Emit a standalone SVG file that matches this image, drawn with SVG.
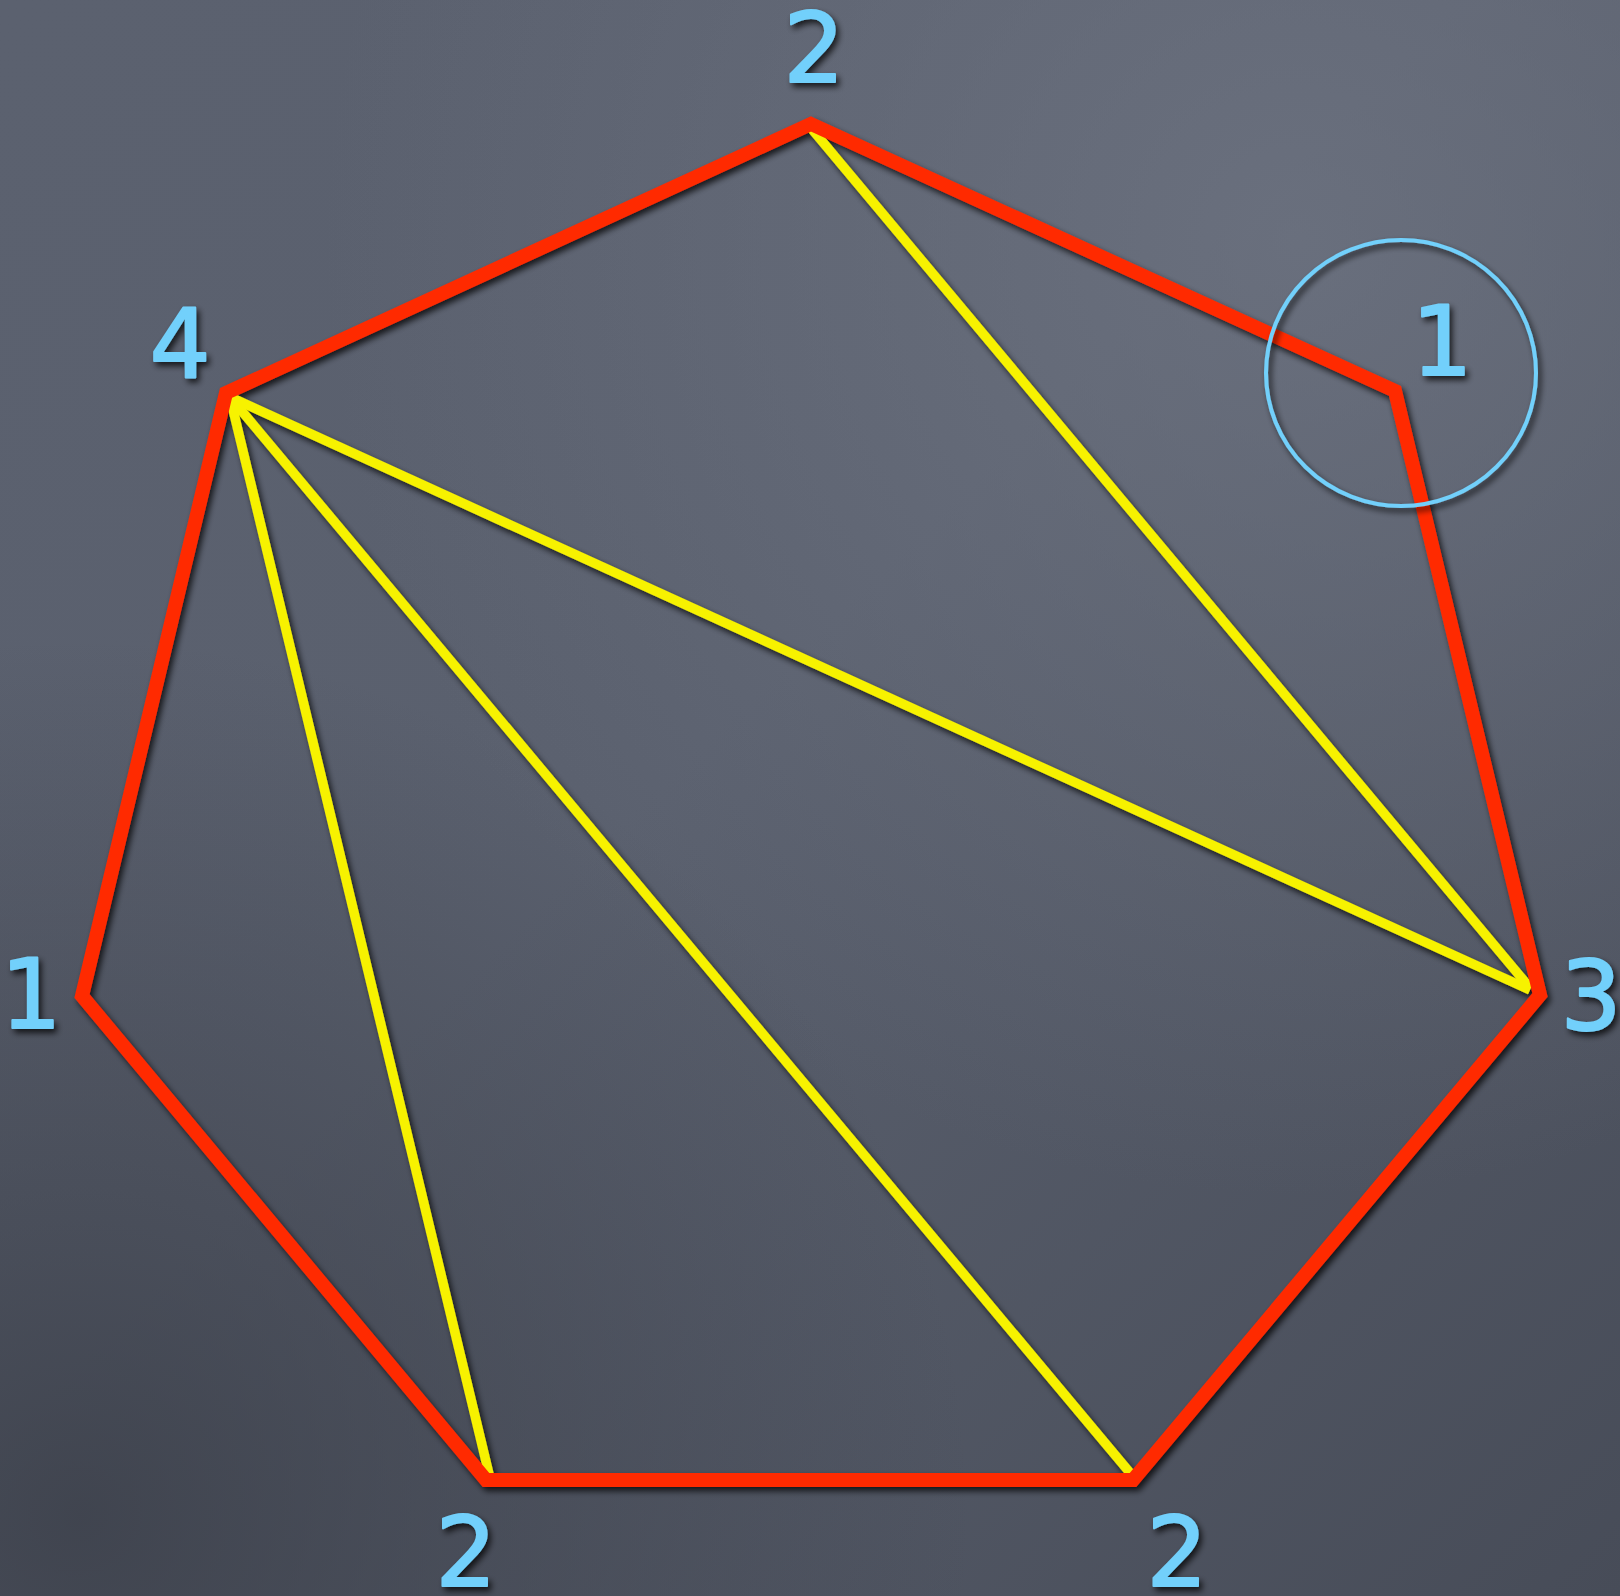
<svg xmlns="http://www.w3.org/2000/svg" width="1620" height="1596" viewBox="0 0 1620 1596">
  <defs>
    <linearGradient id="bg" x1="0" y1="0" x2="1" y2="1">
      <stop offset="0" stop-color="#5b616f"/>
      <stop offset="0.45" stop-color="#5a606e"/>
      <stop offset="1" stop-color="#474c58"/>
    </linearGradient>
    <radialGradient id="glow" cx="0.8" cy="0.15" r="0.6">
      <stop offset="0" stop-color="#707684" stop-opacity="0.7"/>
      <stop offset="1" stop-color="#707684" stop-opacity="0"/>
    </radialGradient>
    <radialGradient id="dark" cx="0.05" cy="0.95" r="0.55">
      <stop offset="0" stop-color="#3a3e48" stop-opacity="0.8"/>
      <stop offset="1" stop-color="#3a3e48" stop-opacity="0"/>
    </radialGradient>
    <filter id="shadow" x="-10%" y="-10%" width="120%" height="120%">
      <feDropShadow dx="3" dy="4" stdDeviation="3" flood-color="#000" flood-opacity="0.75"/>
    </filter>
    <style>
      .edge { fill: none; stroke: #ff2a00; stroke-width: 14; stroke-linejoin: miter; }
      .diag { fill: none; stroke: #f7f200; stroke-width: 9.5; stroke-linecap: butt; }
      .lbl { font-family: "DejaVu Sans", "Noto Sans", sans-serif; font-size: 96px; fill: #72d0fb; stroke: #72d0fb; stroke-width: 2; stroke-linejoin: round; text-anchor: middle; }
      .ring { fill: none; stroke: #72d0fb; stroke-width: 4; }
    </style>
  </defs>
  <rect width="1620" height="1596" fill="url(#bg)"/>
  <rect width="1620" height="1596" fill="url(#glow)"/>
  <rect width="1620" height="1596" fill="url(#dark)"/>

  <g id="connectors" filter="url(#shadow)">
    <line class="diag" x1="811" y1="128" x2="1530" y2="988"/>
    <line class="diag" x1="230" y1="397" x2="1530" y2="990"/>
    <line class="diag" x1="230" y1="397" x2="489" y2="1474"/>
    <line class="diag" x1="230" y1="397" x2="1131" y2="1474"/>
    <polygon id="heptagon" class="edge" points="811,124 1395,391 1540,995 1133,1480 486,1480 82,996 226,393"/>
  </g>

  <g id="node-top" filter="url(#shadow)"><text class="lbl" x="814" y="82">2</text></g>
  <g id="node-upper-left" filter="url(#shadow)"><text class="lbl" x="180" y="378">4</text></g>
  <g id="node-upper-right" filter="url(#shadow)">
    <ellipse class="ring" cx="1401" cy="373" rx="135" ry="133"/>
    <text class="lbl" x="1442" y="375">1</text>
  </g>
  <g id="node-right" filter="url(#shadow)"><text class="lbl" x="1591" y="1030">3</text></g>
  <g id="node-left" filter="url(#shadow)"><text class="lbl" x="31" y="1028">1</text></g>
  <g id="node-bottom-left" filter="url(#shadow)"><text class="lbl" x="466" y="1586">2</text></g>
  <g id="node-bottom-right" filter="url(#shadow)"><text class="lbl" x="1177" y="1586">2</text></g>
</svg>
